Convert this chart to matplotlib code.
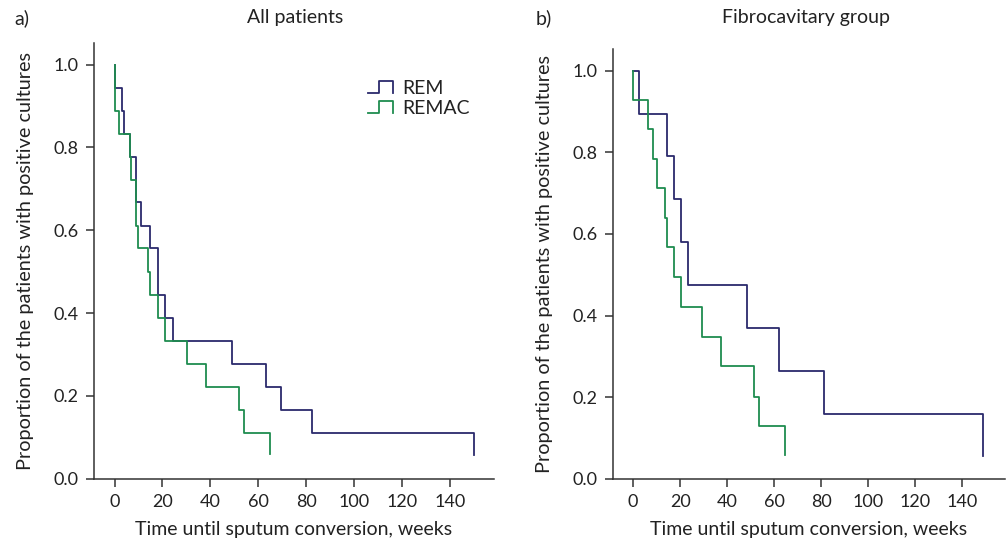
import numpy as np
import matplotlib
matplotlib.use("Agg")
import matplotlib.pyplot as plt
from matplotlib.lines import Line2D
from matplotlib.legend_handler import HandlerBase

plt.rcParams['font.family'] = ['Lato', 'DejaVu Sans']

# a) All patients
rem_a_t = [0, 3, 4, 6.4, 9, 11, 15, 18.2, 21.1, 24.2, 49, 63, 69.3, 82.3, 150]
rem_a_s = [0.944, 0.889, 0.833, 0.778, 0.667, 0.611, 0.556, 0.444, 0.389, 0.333,
           0.278, 0.222, 0.167, 0.111, 0.056]
remac_a_t = [0, 1.8, 6.3, 7, 9, 10, 13.9, 15, 18.2, 21.1, 30.3, 38.2, 52, 54, 65]
remac_a_s = [0.889, 0.833, 0.778, 0.722, 0.611, 0.556, 0.5, 0.444, 0.389, 0.333,
             0.278, 0.222, 0.167, 0.111, 0.06]

# b) Fibrocavitary group
rem_b_t = [2.6, 14.6, 17.4, 20.6, 23.4, 48.6, 62.3, 81.3, 149]
rem_b_s = [0.895, 0.790, 0.686, 0.580, 0.476, 0.370, 0.264, 0.159, 0.055]
remac_b_t = [0, 6.5, 8.5, 10, 13.5, 14.6, 17.2, 20.3, 29.2, 37.4, 51.5, 53.6, 64.7]
remac_b_s = [0.929, 0.857, 0.785, 0.712, 0.638, 0.568, 0.494, 0.421, 0.347, 0.276,
             0.201, 0.130, 0.058]

C_REM = '#2b2a6c'
C_REMAC = '#1f8c4f'

xticks = [0, 20, 40, 60, 80, 100, 120, 140]
yticks = [0.0, 0.2, 0.4, 0.6, 0.8, 1.0]


class StepHandler(HandlerBase):
    # little step-shaped legend key: low, rise, high, drop
    def create_artists(self, legend, orig, xd, yd, w, h, fs, trans):
        x0, y0 = -xd, -yd + 0.05 * h
        hh = 0.9 * h
        xs = [x0, x0 + 0.45 * w, x0 + 0.45 * w, x0 + w, x0 + w]
        ys = [y0, y0, y0 + hh, y0 + hh, y0]
        ln = Line2D(xs, ys, color=orig.get_color(), lw=orig.get_linewidth())
        ln.set_transform(trans)
        return [ln]


fig = plt.figure(figsize=(10.06, 5.45), dpi=100)
ax1 = fig.add_axes([0.0931, 0.1217, 0.398, 0.800])
ax2 = fig.add_axes([0.609, 0.1217, 0.390, 0.788])

def km(ax, t, s, color, label):
    return ax.step([0] + t, [1.0] + s, where='post', color=color, lw=1.3, label=label)[0]

l1 = km(ax1, rem_a_t, rem_a_s, C_REM, 'REM')
l2 = km(ax1, remac_a_t, remac_a_s, C_REMAC, 'REMAC')
km(ax2, rem_b_t, rem_b_s, C_REM, 'REM')
km(ax2, remac_b_t, remac_b_s, C_REMAC, 'REMAC')

for ax in (ax1, ax2):
    ax.set_xlim(-8.7, 158.3)
    ax.set_ylim(0, 1.053)
    ax.set_xticks(xticks)
    ax.set_yticks(yticks)
    ax.set_yticklabels(['%.1f' % v for v in yticks])
    for sp in ('top', 'right'):
        ax.spines[sp].set_visible(False)
    for sp in ('left', 'bottom'):
        ax.spines[sp].set_color('#333333')
        ax.spines[sp].set_linewidth(1.1)
    ax.tick_params(direction='out', length=6, width=1.1, color='#333333',
                   labelsize=13, labelcolor='#222222', pad=5)
    ax.set_xlabel('Time until sputum conversion, weeks', fontsize=14,
                  color='#222222', labelpad=8)
    ax.set_ylabel('Proportion of the patients with positive cultures',
                  fontsize=14.3, color='#222222', labelpad=14)

ax1.legend(handles=[l1, l2], handler_map={Line2D: StepHandler()}, frameon=False,
           loc='upper left', bbox_to_anchor=(0.685, 0.915), borderaxespad=0,
           borderpad=0, fontsize=14, handlelength=1.3, handletextpad=0.45,
           labelspacing=0.15, labelcolor='#222222')

fig.text(0.014, 0.967, 'a)', fontsize=14, color='#222222', va='center')
fig.text(0.293, 0.967, 'All patients', fontsize=14, color='#222222',
         va='center', ha='center')
fig.text(0.532, 0.967, 'b)', fontsize=14, color='#222222', va='center')
fig.text(0.801, 0.967, 'Fibrocavitary group', fontsize=14, color='#222222',
         va='center', ha='center')

fig.savefig('out.png', dpi=100)
